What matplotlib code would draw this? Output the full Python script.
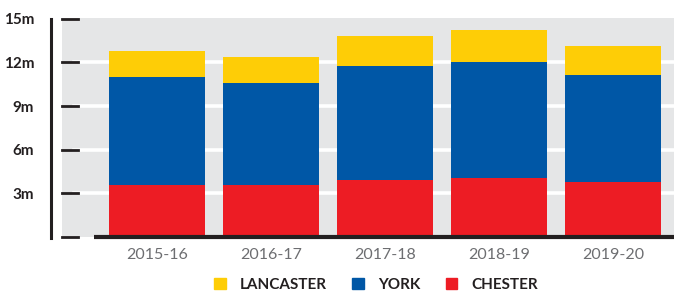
import numpy as np
import matplotlib
matplotlib.use("Agg")
import matplotlib.pyplot as plt
from matplotlib.patches import Patch

# data (millions)
years = ["2015-16", "2016-17", "2017-18", "2018-19", "2019-20"]
chester = [3.6, 3.55, 3.95, 4.05, 3.8]
york = [7.4, 7.0, 7.8, 8.0, 7.35]
lancaster = [1.8, 1.8, 2.05, 2.2, 2.0]
yticks = [3, 6, 9, 12, 15]

RED = "#ed1c24"
BLUE = "#0057a6"
YELLOW = "#fecd06"
DARK = "#231f20"

plt.rcParams['font.family'] = ['Lato', 'DejaVu Sans']

fig = plt.figure(figsize=(6.74, 2.91), dpi=100)
W, H = 674, 291
ax = fig.add_axes([62 / W, 1 - 237 / H, 612 / W, 219 / H])
ax.set_facecolor("#e5e6e7")
for s in ax.spines.values():
    s.set_visible(False)

x = np.arange(len(years))
ax.set_xlim(-0.833, 4.535)
ax.set_ylim(0, 15.05)

# white gridlines
for v in yticks[:-1]:
    ax.plot([0.02, 1], [v, v], color="white", lw=2.6, transform=ax.get_yaxis_transform(), zorder=1)

w = 0.842
ax.bar(x, chester, w, color=RED, zorder=2)
ax.bar(x, york, w, bottom=chester, color=BLUE, zorder=2)
bottom2 = np.array(chester) + np.array(york)
ax.bar(x, lancaster, w, bottom=bottom2, color=YELLOW, zorder=2)

# tick marks and axis line
tr = ax.get_yaxis_transform()
for v in [0] + yticks:
    ax.plot([0, 16 / 612], [v, v], color=DARK, lw=2, transform=tr, clip_on=False, zorder=3)
ax.plot([-11 / 612, -11 / 612], [-0.05, 15], color=DARK, lw=2.2, transform=tr, clip_on=False, zorder=3)
ax.plot([32 / 612, 1], [0, 0], color=DARK, lw=3, transform=tr, clip_on=False, zorder=3,
        solid_capstyle="butt")

ax.set_yticks(yticks)
ax.set_yticklabels([f"{v}m" for v in yticks], fontsize=11, fontweight="bold", color=DARK)
ax.tick_params(axis="y", length=0, pad=20)
ax.set_xticks(x)
ax.set_xticklabels(years, fontsize=11.5, color="#6d6e71")
ax.tick_params(axis="x", length=0, pad=8)

handles = [Patch(color=YELLOW), Patch(color=BLUE), Patch(color=RED)]
fig.legend(handles, ["LANCASTER", "YORK", "CHESTER"], loc="center",
           bbox_to_anchor=(376 / W, 1 - 285 / H), ncol=3, frameon=False,
           handlelength=0.75, handleheight=0.75, handletextpad=0.9, columnspacing=1.7,
           prop={"size": 11, "weight": "bold"}, labelcolor=DARK)

fig.savefig("out.png", dpi=100)
